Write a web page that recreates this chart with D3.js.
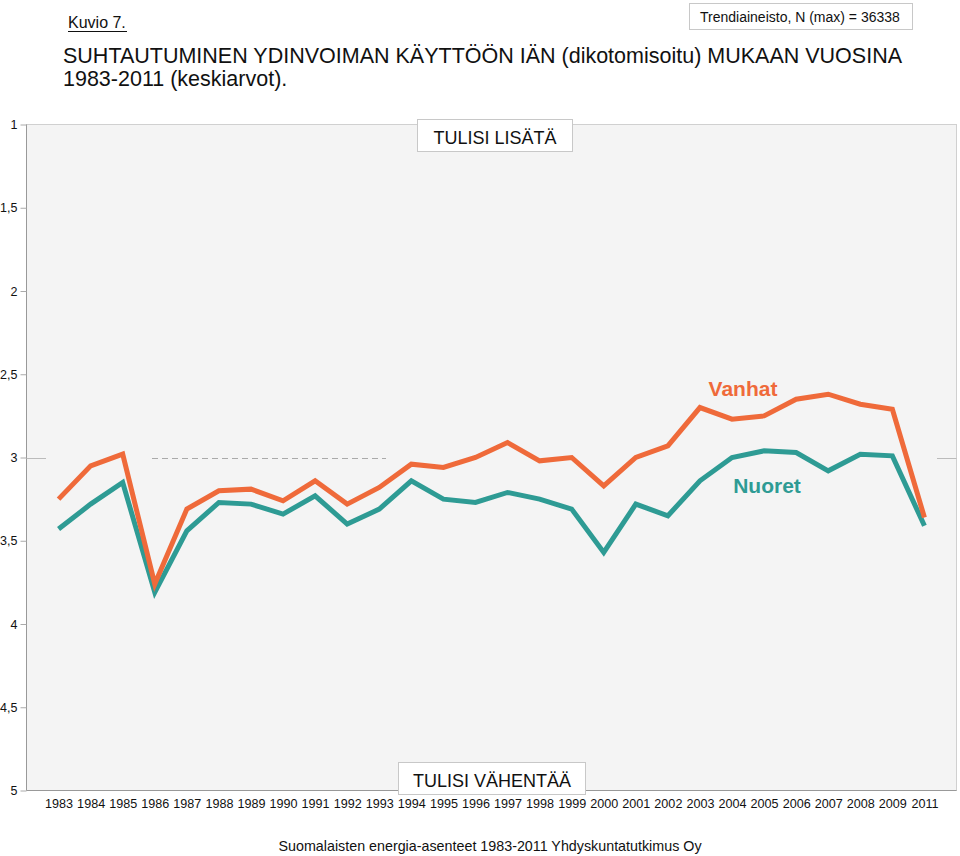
<!DOCTYPE html>
<html><head><meta charset="utf-8">
<script src="https://cdn.jsdelivr.net/npm/d3@7"></script>
<style>body{margin:0;background:#fff;} text{font-family:"Liberation Sans",Arial,sans-serif;}</style>
</head><body>
<svg id="c" width="960" height="856"></svg>
<script>
const years = ["1983","1984","1985","1986","1987","1988","1989","1990","1991","1992","1993","1994","1995","1996","1997","1998","1999","2000","2001","2002","2003","2004","2005","2006","2007","2008","2009","2011"];
const vanhat = [3.25,3.05,2.98,3.76,3.31,3.20,3.19,3.26,3.14,3.28,3.18,3.04,3.06,3.00,2.91,3.02,3.00,3.17,3.00,2.93,2.70,2.77,2.75,2.65,2.62,2.68,2.71,3.36];
const nuoret = [3.43,3.28,3.15,3.81,3.44,3.27,3.28,3.34,3.23,3.40,3.31,3.14,3.25,3.27,3.21,3.25,3.31,3.57,3.28,3.35,3.14,3.00,2.96,2.97,3.08,2.98,2.99,3.41];
const yTicks = [1,1.5,2,2.5,3,3.5,4,4.5,5];

const svg = d3.select("#c");
const L=26.5, R=956.5, T=124.5, B=790.5;
const x = d3.scalePoint().domain(years).range([L,R]).padding(1);
const y = d3.scaleLinear().domain([1,5]).range([T,B]);
const fmt = v => String(v).replace(".", ",");

// header
svg.append("text").attr("x",68).attr("y",28).style("font-size","16px").attr("fill","#111").text("Kuvio 7.");
svg.append("line").attr("x1",68).attr("x2",127).attr("y1",31.5).attr("y2",31.5).attr("stroke","#111").attr("stroke-width",1);
svg.append("rect").attr("x",689.5).attr("y",3.5).attr("width",223).attr("height",26).attr("fill","#fff").attr("stroke","#c8c8c8");
svg.append("text").attr("x",700).attr("y",21.5).style("font-size","14px").attr("fill","#111").text("Trendiaineisto, N (max) = 36338");
svg.append("text").attr("x",63).attr("y",63).style("font-size","21.5px").attr("fill","#111").text("SUHTAUTUMINEN YDINVOIMAN KÄYTTÖÖN IÄN (dikotomisoitu) MUKAAN VUOSINA");
svg.append("text").attr("x",63).attr("y",86).style("font-size","21.5px").attr("fill","#111").text("1983-2011 (keskiarvot).");

// plot area
svg.append("rect").attr("x",L).attr("y",T).attr("width",R-L).attr("height",B-T).attr("fill","#f4f4f4").attr("stroke","#d0d0d0");
svg.append("line").attr("x1",L).attr("x2",L).attr("y1",T).attr("y2",B).attr("stroke","#999");
svg.append("line").attr("x1",L).attr("x2",R).attr("y1",B).attr("y2",B).attr("stroke","#999");

// y axis
const yAxis = d3.axisLeft(y).tickValues(yTicks).tickFormat(fmt).tickSize(6).tickPadding(3);
const ga = svg.append("g").attr("transform",`translate(${L},0)`).call(yAxis);
ga.select(".domain").remove();
ga.selectAll(".tick line").attr("stroke","#aaa");
ga.selectAll(".tick text").style("font-size","12.5px").attr("fill","#111").style("font-family","'Liberation Sans', Arial, sans-serif");

// reference line at 3
const y3 = Math.round(y(3))+0.5;
svg.append("line").attr("x1",L).attr("x2",46).attr("y1",y3).attr("y2",y3).attr("stroke","#bbb");
svg.append("line").attr("x1",152).attr("x2",386).attr("y1",y3).attr("y2",y3).attr("stroke","#aaa").attr("stroke-dasharray","6,4");
svg.append("line").attr("x1",937).attr("x2",R).attr("y1",y3).attr("y2",y3).attr("stroke","#bbb");

// x labels
const xAxis = d3.axisBottom(x).tickSize(0).tickPadding(9);
const gx = svg.append("g").attr("transform",`translate(0,${B})`).call(xAxis);
gx.select(".domain").remove();
gx.selectAll(".tick text").style("font-size","12.6px").attr("fill","#111").style("font-family","'Liberation Sans', Arial, sans-serif");

// lines
const line = d3.line().x((d,i)=>x(years[i])).y(d=>y(d));
svg.append("path").datum(nuoret).attr("d",line).attr("fill","none").attr("stroke","#2e9b94").attr("stroke-width",5).attr("stroke-linejoin","miter");
svg.append("path").datum(vanhat).attr("d",line).attr("fill","none").attr("stroke","#ef6a3a").attr("stroke-width",5).attr("stroke-linejoin","miter");

// series labels
svg.append("text").attr("x",743).attr("y",396).attr("text-anchor","middle").style("font-size","21px").attr("font-weight","bold").attr("fill","#ef6a3a").text("Vanhat");
svg.append("text").attr("x",767).attr("y",493).attr("text-anchor","middle").style("font-size","21px").attr("font-weight","bold").attr("fill","#2e9b94").text("Nuoret");

// boxes
svg.append("rect").attr("x",417.5).attr("y",119.5).attr("width",155).attr("height",32).attr("fill","#fff").attr("stroke","#c8c8c8");
svg.append("text").attr("x",495).attr("y",144).attr("text-anchor","middle").style("font-size","18px").attr("fill","#111").text("TULISI LISÄTÄ");
svg.append("rect").attr("x",398.5).attr("y",762.5).attr("width",187).attr("height",32).attr("fill","#fff").attr("stroke","#c8c8c8");
svg.append("text").attr("x",492).attr("y",787).attr("text-anchor","middle").style("font-size","18px").attr("fill","#111").text("TULISI VÄHENTÄÄ");

// footer
svg.append("text").attr("x",490).attr("y",851).attr("text-anchor","middle").style("font-size","14.3px").attr("fill","#111").text("Suomalaisten energia-asenteet 1983-2011 Yhdyskuntatutkimus Oy");
</script>
</body></html>
